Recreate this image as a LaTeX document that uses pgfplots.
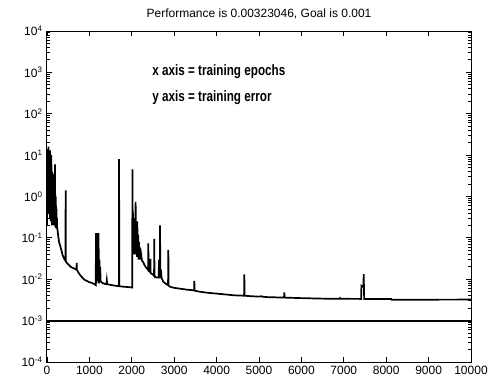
\documentclass[border=0pt]{standalone}
\usepackage{pgfplots}
\pgfplotsset{compat=1.18}
\usepackage{fontspec}
\setmainfont{Liberation Sans}
\begin{document}
\begin{tikzpicture}
\path[use as bounding box] (0,0) rectangle (492pt,381pt);
\begin{axis}[
  at={(47pt,19pt)}, anchor=south west,
  scale only axis, width=424pt, height=331pt,
  ymode=log, log basis y=10,
  xmin=0, xmax=10000, ymin=1e-4, ymax=1e4,
  xtick={0,1000,2000,3000,4000,5000,6000,7000,8000,9000,10000},
  xticklabels={0,1000,2000,3000,4000,5000,6000,7000,8000,9000,10000},
  ytick={1e-4,1e-3,1e-2,1e-1,1,1e1,1e2,1e3,1e4},
  minor ytick={2e-4,3e-4,4e-4,5e-4,6e-4,7e-4,8e-4,9e-4,
    2e-3,3e-3,4e-3,5e-3,6e-3,7e-3,8e-3,9e-3,
    2e-2,3e-2,4e-2,5e-2,6e-2,7e-2,8e-2,9e-2,
    2e-1,3e-1,4e-1,5e-1,6e-1,7e-1,8e-1,9e-1,
    2,3,4,5,6,7,8,9,
    20,30,40,50,60,70,80,90,
    200,300,400,500,600,700,800,900,
    2000,3000,4000,5000,6000,7000,8000,9000},
  yticklabels={10\textsuperscript{-4},10\textsuperscript{-3},10\textsuperscript{-2},10\textsuperscript{-1},10\textsuperscript{0},10\textsuperscript{1},10\textsuperscript{2},10\textsuperscript{3},10\textsuperscript{4}},
  scaled x ticks=false,
  tick align=inside, tick pos=both,
  major tick length=5pt, minor tick length=3pt,
  axis line style={line width=1pt},
  every tick/.style={black, line width=0.9pt},
  ticklabel style={font=\fontsize{12}{14}\selectfont},
  xticklabel style={yshift=-1pt},
  yticklabel style={xshift=-1pt},
  clip=true,
]
\addplot[black, line width=2pt] coordinates {(0,1e-3) (10000,1e-3)};
\addplot[black, line width=1.7pt, line join=miter] coordinates {
(0,0.2) (3,12) (8,0.8) (13,14) (18,1.5) (23,9) (28,0.5) (33,16) (38,2.0) (43,6) (48,0.4)
(53,11) (58,0.6) (63,8) (68,0.3) (73,13) (78,0.9) (83,5) (88,0.25) (93,7) (98,0.5)
(103,10) (108,0.3) (113,3) (118,0.2) (123,4) (128,0.6) (133,2.5) (138,0.25) (143,3.5)
(148,0.4) (153,1.8) (158,0.2) (163,2.2) (168,0.35) (173,1.2) (178,0.2) (185,1.5)
(190,6) (194,0.3) (198,0.9) (202,0.18) (206,1.0) (210,0.25) (215,0.6) (220,0.17)
(225,0.5) (230,0.2) (235,0.3) (240,0.17)
(250,0.15) (270,0.1) (290,0.075) (310,0.065) (340,0.05) (370,0.038) (400,0.032)
(435,0.028) (440,1.4) (445,0.027) (480,0.024) (520,0.022) (560,0.02) (600,0.019)
(650,0.018) (695,0.017) (700,0.025) (705,0.017) (750,0.014) (800,0.012) (850,0.0105)
(900,0.0095) (950,0.009) (1000,0.0085) (1050,0.0082) (1100,0.0078) (1150,0.0072)
(1155,0.13) (1165,0.008) (1175,0.13) (1185,0.01) (1195,0.12) (1205,0.009) (1215,0.13)
(1225,0.008) (1235,0.03) (1245,0.012) (1255,0.02) (1265,0.009) (1300,0.0082)
(1350,0.0078) (1400,0.0076) (1410,0.0095) (1420,0.0076) (1500,0.0073) (1600,0.007)
(1695,0.0068) (1700,8.0) (1705,0.0068) (1800,0.0066) (1900,0.0065) (2010,0.0063)
(2015,4.5) (2025,0.05) (2030,0.4) (2040,0.04) (2050,0.3) (2060,0.05) (2070,0.2)
(2080,0.04) (2090,0.74) (2100,0.05) (2110,0.15) (2120,0.035) (2130,0.25) (2140,0.04)
(2150,0.12) (2160,0.03) (2170,0.08) (2180,0.035) (2190,0.06) (2200,0.03) (2220,0.04)
(2240,0.028) (2270,0.026) (2300,0.022) (2340,0.019) (2385,0.017) (2390,0.074)
(2395,0.016) (2430,0.015) (2440,0.031) (2445,0.014) (2500,0.013) (2525,0.012)
(2530,0.095) (2535,0.012) (2580,0.011) (2635,0.011) (2640,0.03) (2645,0.011)
(2660,0.011) (2665,0.2) (2675,0.012) (2690,0.017) (2700,0.011) (2740,0.0088)
(2800,0.0078) (2855,0.0072) (2862,0.051) (2868,0.007) (2900,0.0066) (3000,0.0062)
(3100,0.006) (3200,0.0058) (3300,0.0056) (3470,0.0054) (3475,0.0091) (3480,0.0053)
(3600,0.005) (3800,0.0047) (4000,0.0045) (4200,0.0043) (4400,0.0041) (4648,0.004)
(4654,0.0132) (4660,0.004) (4800,0.0039) (5000,0.0038) (5060,0.0039) (5070,0.0038)
(5200,0.0037) (5400,0.00365) (5590,0.0036) (5597,0.0048) (5604,0.0036) (5800,0.00355)
(6000,0.0035) (6500,0.0034) (6900,0.00338) (6910,0.0035) (6920,0.00337) (7410,0.00335)
(7415,0.007) (7460,0.0065) (7470,0.0132) (7480,0.00335) (8120,0.00333) (8130,0.00318)
(9000,0.00321) (10000,0.00323)
};
\node[anchor=west, inner sep=0pt, font=\bfseries\fontsize{15}{17}\selectfont] at (rel axis cs:0.248,0.876) {\scalebox{0.78}[1]{x axis = training epochs}};
\node[anchor=west, inner sep=0pt, font=\bfseries\fontsize{15}{17}\selectfont] at (rel axis cs:0.248,0.80) {\scalebox{0.78}[1]{y axis = training error}};
\end{axis}
\node[anchor=base, inner sep=0pt, font=\fontsize{12}{14}\selectfont] at (259pt,363pt) {Performance is 0.00323046, Goal is 0.001};
\end{tikzpicture}
\end{document}
